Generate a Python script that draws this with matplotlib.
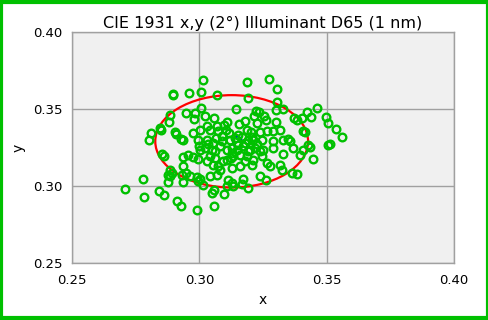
import matplotlib
matplotlib.use("Agg")
import matplotlib.pyplot as plt
from matplotlib.patches import Ellipse, Rectangle

# chromaticity samples (x, y)
xs = [0.3013, 0.3187, 0.3275, 0.3306, 0.2895, 0.2898, 0.2958, 0.3008, 0.3068, 0.3191,
      0.3304, 0.3143, 0.3008, 0.3330, 0.3301, 0.3461, 0.3421, 0.2885, 0.2948, 0.2983,
      0.2979, 0.3021, 0.3056, 0.3223, 0.3236, 0.3255, 0.3216, 0.3225, 0.3262, 0.3301,
      0.3372, 0.3382, 0.3402, 0.3437, 0.3496, 0.3507, 0.3538, 0.3562, 0.3513, 0.3504,
      0.2882, 0.2846, 0.2851, 0.2810, 0.2801, 0.2903, 0.2908, 0.2928, 0.2935, 0.2976,
      0.2996, 0.3029, 0.3042, 0.3068, 0.3075, 0.3097, 0.3107, 0.3105, 0.3088, 0.3064,
      0.3029, 0.3154, 0.3140, 0.3166, 0.3153, 0.3186, 0.3202, 0.3212, 0.3192, 0.3205,
      0.3246, 0.3264, 0.3291, 0.3317, 0.3291, 0.3291, 0.3349, 0.3356, 0.3369, 0.3408,
      0.3415, 0.3428, 0.3435, 0.3408, 0.3395, 0.3445, 0.3330, 0.2853, 0.2861, 0.2937,
      0.2957, 0.2976, 0.2996, 0.3003, 0.3022, 0.3048, 0.3062, 0.3107, 0.3127, 0.3147,
      0.3160, 0.3134, 0.3107, 0.3173, 0.3199, 0.3219, 0.3238, 0.3251, 0.3245, 0.3029,
      0.3055, 0.3075, 0.3094, 0.3127, 0.3160, 0.3205, 0.3264, 0.3277, 0.3317, 0.3326,
      0.3363, 0.3382, 0.2885, 0.2891, 0.2878, 0.2885, 0.2937, 0.2948, 0.2931, 0.2963,
      0.2990, 0.3003, 0.2996, 0.3016, 0.3042, 0.3068, 0.3081, 0.3114, 0.3127, 0.3173,
      0.3166, 0.3192, 0.3238, 0.3262, 0.2780, 0.2878, 0.2937, 0.2709, 0.2784, 0.2843,
      0.2861, 0.2914, 0.2929, 0.2990, 0.3059, 0.3048, 0.3059, 0.3097, 0.3134, 0.3107,
      0.3120, 0.3127, 0.3186, 0.3212, 0.3081, 0.3042, 0.3003, 0.3179, 0.3330, 0.3055,
      0.3035, 0.3090, 0.3115, 0.3150, 0.3180, 0.3225, 0.3060, 0.3180, 0.3240, 0.3000,
      0.3125, 0.3190]
ys = [0.3686, 0.3677, 0.3695, 0.3630, 0.3597, 0.3589, 0.3602, 0.3610, 0.3591, 0.3569,
      0.3545, 0.3500, 0.3509, 0.3498, 0.3496, 0.3506, 0.3481, 0.3461, 0.3472, 0.3474,
      0.3437, 0.3457, 0.3444, 0.3489, 0.3481, 0.3452, 0.3452, 0.3409, 0.3431, 0.3418,
      0.3442, 0.3431, 0.3442, 0.3446, 0.3448, 0.3409, 0.3372, 0.3318, 0.3273, 0.3266,
      0.3416, 0.3377, 0.3366, 0.3344, 0.3297, 0.3348, 0.3340, 0.3305, 0.3301, 0.3344,
      0.3301, 0.3387, 0.3361, 0.3387, 0.3355, 0.3398, 0.3413, 0.3366, 0.3323, 0.3312,
      0.3301, 0.3405, 0.3312, 0.3318, 0.3268, 0.3366, 0.3348, 0.3301, 0.3301, 0.3318,
      0.3301, 0.3355, 0.3355, 0.3361, 0.3290, 0.3247, 0.3305, 0.3290, 0.3247, 0.3355,
      0.3348, 0.3268, 0.3253, 0.3236, 0.3199, 0.3177, 0.3210, 0.3208, 0.3197, 0.3186,
      0.3203, 0.3186, 0.3175, 0.3236, 0.3247, 0.3232, 0.3225, 0.3236, 0.3247, 0.3236,
      0.3203, 0.3193, 0.3171, 0.3258, 0.3236, 0.3247, 0.3225, 0.3236, 0.3193, 0.3160,
      0.3139, 0.3128, 0.3160, 0.3117, 0.3128, 0.3139, 0.3149, 0.3132, 0.3139, 0.3106,
      0.3084, 0.3080, 0.3102, 0.3084, 0.3074, 0.3063, 0.3128, 0.3084, 0.3074, 0.3067,
      0.3058, 0.3045, 0.3030, 0.3009, 0.3063, 0.3074, 0.3106, 0.3041, 0.3019, 0.3045,
      0.3015, 0.2987, 0.3067, 0.3041, 0.3045, 0.3026, 0.3024, 0.2981, 0.2931, 0.2965,
      0.2944, 0.2900, 0.2868, 0.2846, 0.2872, 0.2955, 0.2972, 0.2950, 0.2998, 0.3002,
      0.3301, 0.3214, 0.3193, 0.3171, 0.3258, 0.3193, 0.3366, 0.3420, 0.3301, 0.3279,
      0.3270, 0.3290, 0.3345, 0.3330, 0.3280, 0.3270, 0.3180, 0.3160, 0.3350, 0.3260,
      0.3180, 0.3230]

# D65 white point and the ellipses around it
white_x, white_y = 0.3127, 0.3290
red_radius = 0.03
blue_center = (0.3150, 0.3285)
blue_size = (0.0035, 0.0070)

ticks = [0.25, 0.30, 0.35, 0.40]
tick_labels = ["0.25", "0.30", "0.35", "0.40"]

plt.rcParams['font.family'] = ['DejaVu Sans']

fig = plt.figure(figsize=(4.89, 3.20), dpi=100)
fig.patch.set_facecolor("white")
ax = fig.add_axes([72 / 489, 57 / 320, 382 / 489, 231 / 320])
ax.set_facecolor("#f0f0f0")

ax.add_patch(Ellipse(blue_center, blue_size[0], blue_size[1], fill=False,
                     edgecolor="#0000ff", lw=1.5, zorder=2))
ax.add_patch(Ellipse((white_x, white_y), 2 * red_radius, 2 * red_radius, fill=False,
                     edgecolor="#ff0000", lw=1.6, zorder=2))
ax.plot(xs, ys, linestyle="none", marker="o", ms=5.5, mew=1.7,
        mfc="none", mec="#00c000", zorder=3)

ax.set_xlim(0.25, 0.40)
ax.set_ylim(0.25, 0.40)
ax.set_xticks(ticks)
ax.set_yticks(ticks)
ax.set_xticklabels(tick_labels)
ax.set_yticklabels(tick_labels)
ax.tick_params(length=0, labelsize=9.5, pad=7)
ax.tick_params(axis="x", pad=8)
ax.grid(True, color="#a0a0a0", lw=1)
ax.set_axisbelow(True)
for s in ax.spines.values():
    s.set_color("#a0a0a0")
    s.set_linewidth(1)

ax.set_title("CIE 1931 x,y (2°) Illuminant D65 (1 nm)", fontsize=11.5, pad=3)
ax.set_xlabel("x", fontsize=10, labelpad=4)
ax.set_ylabel("y", fontsize=10, labelpad=5)

# green frame round the picture
fig.patches.append(Rectangle((0.003, 0.005), 0.994, 0.99, transform=fig.transFigure,
                             fill=False, edgecolor="#00c000", lw=3))

fig.savefig("out.png", dpi=100)
